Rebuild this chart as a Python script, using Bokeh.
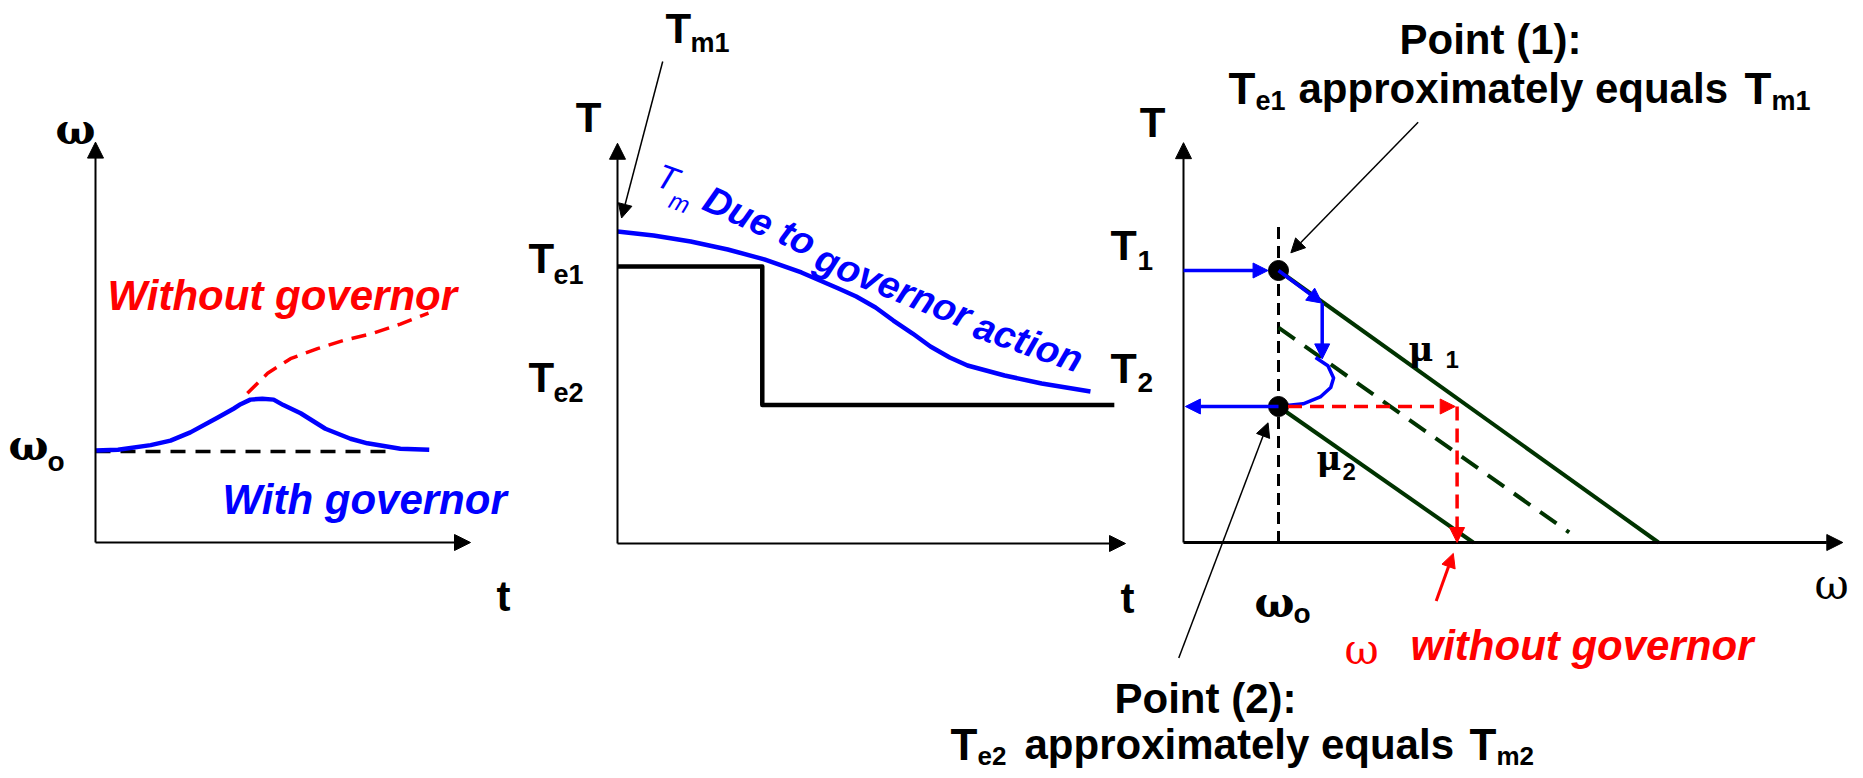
from bokeh.plotting import figure
from bokeh.models import Range1d, Arrow, NormalHead
from bokeh.core.properties import value
from bokeh.embed import file_html
from bokeh.resources import INLINE

# ---------------- data ----------------
# Panel 1: speed (per unit of omega_o) versus time
p1_t_with = [0, 0.6, 1.47, 2.0, 2.53, 3.25, 3.68, 3.87, 4.13, 4.45, 4.75, 5.01, 5.47, 6.13, 6.8, 7.25, 8.13, 8.9]
p1_w_with = [1.01, 1.02, 1.07, 1.12, 1.21, 1.37, 1.47, 1.52, 1.57, 1.58, 1.57, 1.51, 1.42, 1.25, 1.14, 1.09, 1.03, 1.02]
p1_t_without = [4.05, 4.59, 5.2, 5.92, 6.61, 7.41, 8.13, 8.88]
p1_w_without = [1.64, 1.86, 2.02, 2.13, 2.22, 2.30, 2.40, 2.52]
p1_t_ref = [0, 7.8]
p1_w_ref = [1.0, 1.0]

# Panel 2: torques versus time (per unit of Te2)
p2_t_tm = [0, 0.71, 1.44, 2.17, 2.89, 3.62, 4.35, 4.70, 5.08, 5.43, 5.81, 6.16, 6.54, 6.89, 7.62, 8.35, 9.31]
p2_T_tm = [2.253, 2.224, 2.181, 2.123, 2.051, 1.957, 1.841, 1.783, 1.704, 1.610, 1.516, 1.422, 1.343, 1.285, 1.213, 1.155, 1.097]
p2_t_te = [0, 2.85, 2.85, 9.78]
p2_T_te = [2.0, 2.0, 1.0, 1.0]

# Panel 3: torque versus speed characteristics
p3_w_mu1 = [1.0, 5.0]
p3_T_mu1 = [2.0, 0.0]
p3_w_mid = [1.0, 4.06]
p3_T_mid = [1.58, 0.074]
p3_w_mu2 = [1.0, 3.05]
p3_T_mu2 = [1.0, 0.0]
p3_w_ref = [1.0, 1.0]
p3_T_ref = [2.32, 0.0]
p3_w_pts = [1.0, 1.0]
p3_T_pts = [2.0, 1.0]
p3_w_curve = [1.39, 1.52, 1.58, 1.55, 1.44, 1.26, 1.11, 1.0]
p3_T_curve = [1.36, 1.30, 1.21, 1.14, 1.07, 1.02, 1.01, 1.01]

# arrows: (x_start, y_start, x_end, y_end)
p3_blue_arrows = [(0.0, 2.0, 0.89, 2.0), (1.0, 2.0, 1.46, 1.76), (1.46, 1.76, 1.46, 1.35), (1.0, 1.0, 0.02, 1.0)]
p3_red_arrows = [(1.1, 1.0, 2.86, 1.0), (2.88, 1.0, 2.88, 0.0)]
p3_red_pointer = (2.66, -0.43, 2.84, -0.08)
p3_callouts = [(2.47, 3.09, 1.13, 2.13), (-0.05, -0.85, 0.89, 0.88)]
p2_callout = (0.89, 3.48, 0.08, 2.35)

BLUE = "#0000FF"
RED = "#FF0000"
GREEN = "#003300"
SANS = "Liberation Sans"
GREEK = "DejaVu Serif"

# ---------------- figure ----------------
W, H = 1860, 774
p = figure(width=W, height=H, x_range=Range1d(0, W), y_range=Range1d(H, 0),
           output_backend="svg", toolbar_location=None, min_border=0,
           x_axis_location=None, y_axis_location=None)
p.grid.visible = False
p.outline_line_color = None
p.background_fill_color = "white"
p.border_fill_color = "white"


def panel_ranges(name, ox, oy, sx, sy):
    p.extra_x_ranges[name + "x"] = Range1d(-ox / sx, (W - ox) / sx)
    p.extra_y_ranges[name + "y"] = Range1d((oy - H) / sy, oy / sy)


panel_ranges("p1", 95, 542, 37.5, 91.0)
panel_ranges("p2", 617, 543, 50.8, 138.5)
panel_ranges("p3", 1183, 542, 95.0, 136.0)


def arrow(a, rng, color, width, head, dash="solid"):
    xs, ys, xe, ye = a
    p.add_layout(Arrow(x_start=xs, y_start=ys, x_end=xe, y_end=ye,
                       x_range_name=rng + "x", y_range_name=rng + "y",
                       line_color=color, line_width=width, line_dash=dash,
                       end=NormalHead(size=head, fill_color=color, line_color=color, line_width=1)))


def line(xs, ys, rng, color, width, dash="solid"):
    p.line(xs, ys, x_range_name=rng + "x", y_range_name=rng + "y",
           line_color=color, line_width=width, line_dash=dash, line_cap="butt", line_join="round")


def txt(x, y, s, size, color="black", style="bold", font=SANS, align="left", angle=0.0):
    p.text(x=[x], y=[y], text=[s], text_font=value(font), text_font_size=f"{size}px",
           text_font_style=style, text_color=color, text_align=align,
           text_baseline="middle", angle=angle)


# ---- Panel 1 ----
arrow((0, 0, 10.0, 0), "p1", "black", 2, 16)
arrow((0, 0, 0, 4.4), "p1", "black", 2, 16)
line(p1_t_ref, p1_w_ref, "p1", "black", 3.5, "15 10")
line(p1_t_without, p1_w_without, "p1", RED, 3.5, "15 9")
line(p1_t_with, p1_w_with, "p1", BLUE, 4.5)

txt(75, 129, "ω", 42, font=GREEK, align="center")
txt(28, 445, "ω", 42, font=GREEK, align="center")
txt(47, 461, "o", 28)
txt(107, 295, "Without governor", 42, color=RED, style="bold italic")
txt(222, 499, "With governor", 42, color=BLUE, style="bold italic")
txt(503, 596, "t", 42, align="center")

# ---- Panel 2 ----
arrow((0, 0, 10.0, 0), "p2", "black", 2, 16)
arrow((0, 0, 0, 2.89), "p2", "black", 2, 16)
line(p2_t_te, p2_T_te, "p2", "black", 4.5)
line(p2_t_tm, p2_T_tm, "p2", BLUE, 4.5)
arrow(p2_callout, "p2", "black", 1.5, 14)

txt(588, 117, "T", 42, align="center")
txt(665, 28, "T", 42)
txt(690, 42, "m1", 27)
txt(528, 258, "T", 42)
txt(553, 274, "e1", 27)
txt(528, 377, "T", 42)
txt(553, 392, "e2", 27)
txt(1127, 598, "t", 42, align="center")
txt(667, 177, "T", 34, color=BLUE, style="italic", align="center", angle=-0.35)
txt(679, 202, "m", 24, color=BLUE, style="italic", align="center", angle=-0.35)
txt(738, 211, "Due", 38, color=BLUE, style="bold italic", align="center", angle=-0.42)
txt(797, 237, "to", 38, color=BLUE, style="bold italic", align="center", angle=-0.45)
txt(893, 286, "governor", 38, color=BLUE, style="bold italic", align="center", angle=-0.38)
txt(1028, 342, "action", 38, color=BLUE, style="bold italic", align="center", angle=-0.33)

# ---- Panel 3 ----
arrow((0, 0, 6.94, 0), "p3", "black", 3, 16)
arrow((0, 0, 0, 2.94), "p3", "black", 2, 16)
line(p3_w_ref, p3_T_ref, "p3", "black", 3, "12 7")
line(p3_w_mu1, p3_T_mu1, "p3", GREEN, 4)
line(p3_w_mid, p3_T_mid, "p3", GREEN, 4, "20 12")
line(p3_w_mu2, p3_T_mu2, "p3", GREEN, 4)
for a in p3_red_arrows:
    arrow(a, "p3", RED, 3.5, 15, "14 8")
arrow(p3_red_pointer, "p3", RED, 3, 14)
line(p3_w_curve, p3_T_curve, "p3", BLUE, 3.5)
for a in p3_blue_arrows:
    arrow(a, "p3", BLUE, 3.5, 15)
for a in p3_callouts:
    arrow(a, "p3", "black", 1.5, 14)
p.scatter(p3_w_pts, p3_T_pts, x_range_name="p3x", y_range_name="p3y",
          size=20, color="black")

txt(1152, 122, "T", 42, align="center")
txt(1110, 244, "T", 43)
txt(1137, 260, "1", 28)
txt(1110, 367, "T", 43)
txt(1137, 382, "2", 28)
txt(1831, 584, "ω", 42, style="normal", font=GREEK, align="center")
txt(1274, 602, "ω", 42, font=GREEK, align="center")
txt(1293, 613, "o", 28)
txt(1408, 348, "μ", 34, font=GREEK)
txt(1445, 359, "1", 24)
txt(1316, 457, "μ", 34, font=GREEK)
txt(1342, 471, "2", 24)
txt(1361, 649, "ω", 42, color=RED, style="normal", font=GREEK, align="center")
txt(1410, 645, "without governor", 42, color=RED, style="bold italic")

txt(1490, 39, "Point (1):", 42, align="center")
txt(1228, 88, "T", 44)
txt(1255, 100, "e1", 27)
txt(1298, 88, "approximately equals", 42)
txt(1744, 88, "T", 44)
txt(1771, 100, "m1", 27)

txt(1205, 698, "Point (2):", 42, align="center")
txt(950, 744, "T", 44)
txt(977, 755, "e2", 26)
txt(1024, 744, "approximately equals", 42)
txt(1469, 744, "T", 44)
txt(1496, 755, "m2", 26)

open("out.html", "w").write(file_html(p, INLINE))
